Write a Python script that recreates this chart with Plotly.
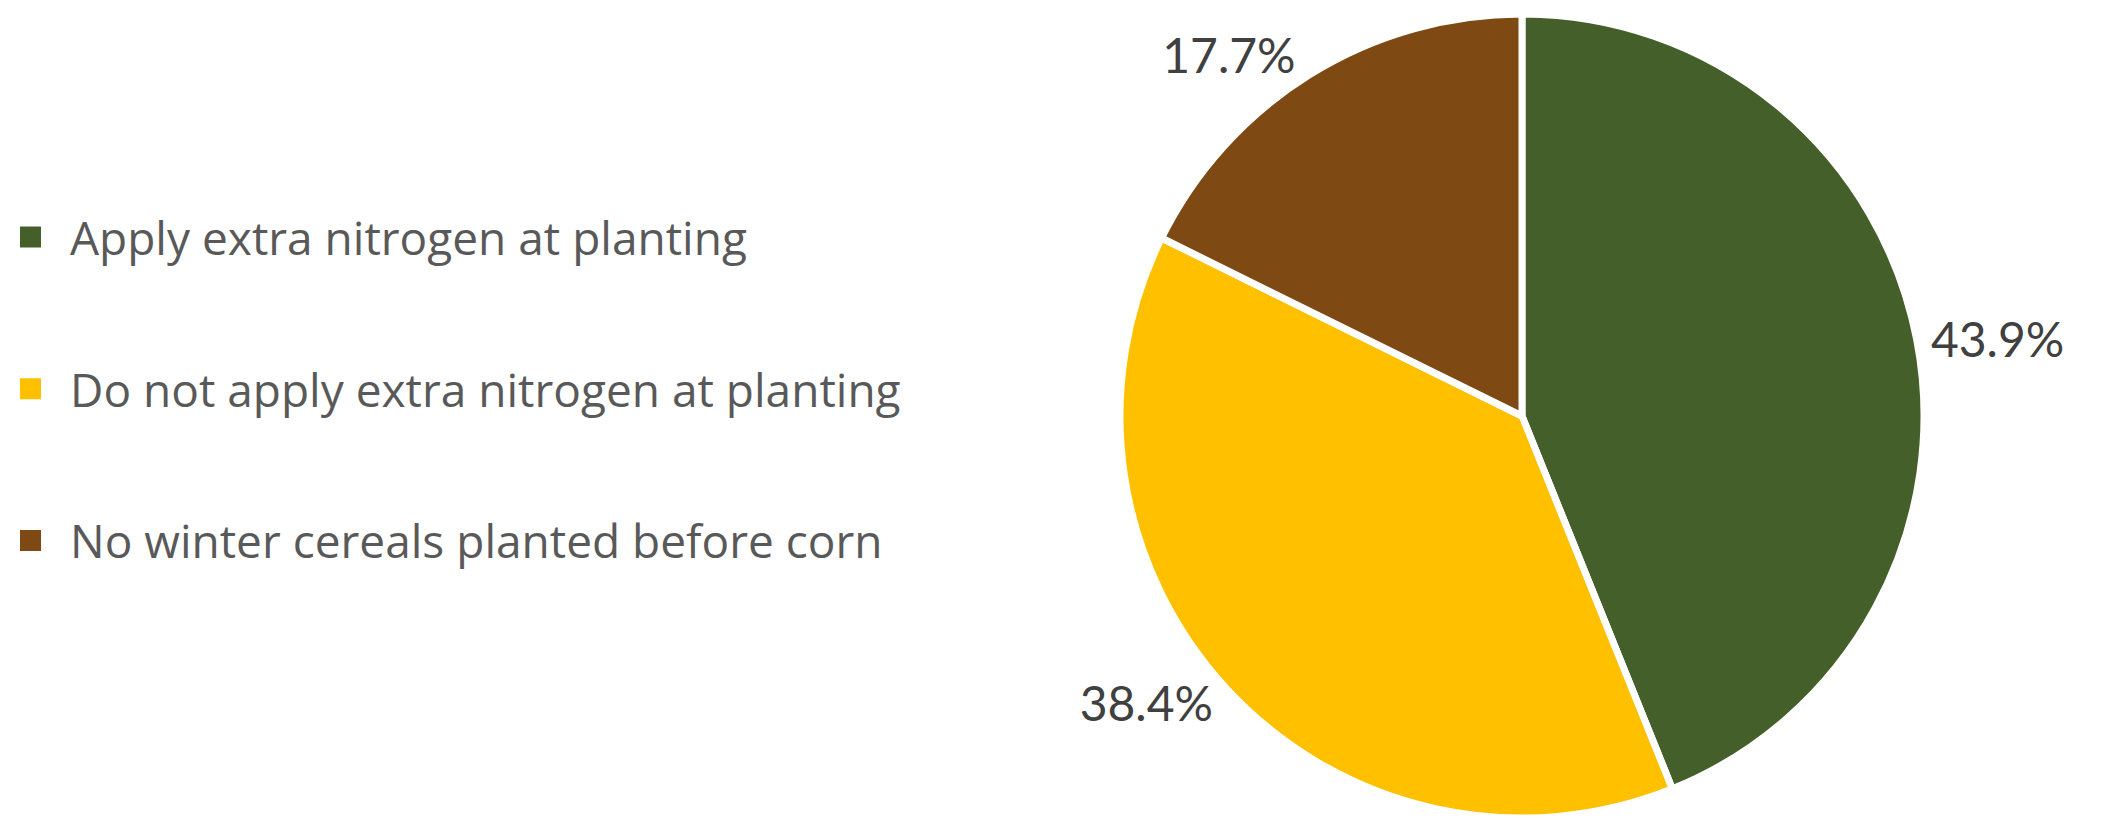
import plotly.graph_objects as go

categories = ["Apply extra nitrogen at planting",
              "Do not apply extra nitrogen at planting",
              "No winter cereals planted before corn"]
values = [43.9, 38.4, 17.7]
colors = ["#455F2B", "#FFC000", "#7E4913"]

PCT_FONT = "Lato, 'Open Sans', sans-serif"
LEG_FONT = "'Open Sans', Lato, sans-serif"

W, H = 2100, 810   # page body adds an 8px margin around the figure

fig = go.Figure()
fig.add_trace(go.Pie(
    labels=categories, values=values, sort=False, direction="clockwise",
    rotation=0,
    marker=dict(colors=colors, line=dict(color="white", width=7)),
    texttemplate="%{percent:.1%}", textposition="outside",
    outsidetextfont=dict(family=PCT_FONT, size=48, color="#404040"),
    domain=dict(x=[0.5293, 0.9126], y=[0, 1]),
    showlegend=False, hoverinfo="label+percent",
))

# legend entries (one per slice, same colours)
for i, (cat, col) in enumerate(zip(categories, colors)):
    fig.add_trace(go.Scatter(
        x=[None], y=[None], mode="markers", name=cat,
        legendgroup=f"g{i}",
        marker=dict(symbol="square", size=16, color=col,
                    line=dict(color=col, width=5)),
        showlegend=True, hoverinfo="skip",
    ))

fig.update_layout(
    width=W, height=H,
    margin=dict(l=0, r=0, t=6, b=0, autoexpand=False),
    paper_bgcolor="white", plot_bgcolor="white",
    xaxis=dict(visible=False), yaxis=dict(visible=False),
    legend=dict(
        x=-17 / W, xref="paper", xanchor="left",
        y=(H - 192.5) / (H - 6), yref="paper", yanchor="top",
        font=dict(family=LEG_FONT, size=46, color="#595959"),
        tracegroupgap=89, itemwidth=69,
        bgcolor="rgba(0,0,0,0)",
    ),
)

fig.write_html("out.html")
